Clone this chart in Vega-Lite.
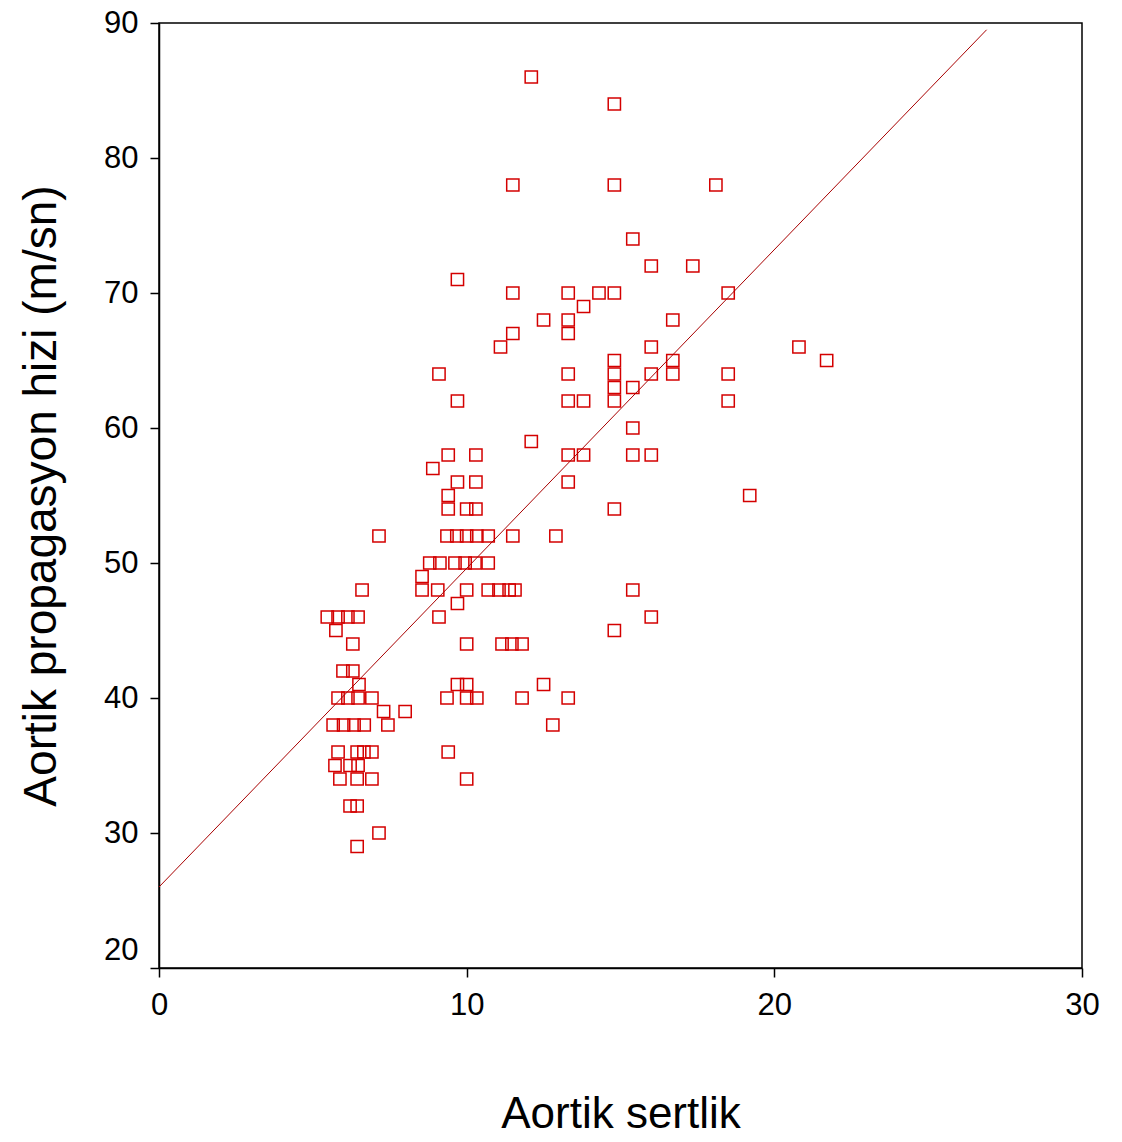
{
  "$schema": "https://vega.github.io/schema/vega-lite/v6.json",
  "width": 923,
  "height": 945,
  "autosize": {"type": "none"},
  "padding": {"left": 159, "top": 23, "right": 40, "bottom": 174},
  "background": "white",
  "config": {
    "view": {"stroke": "#000000", "strokeWidth": 1.5},
    "font": "Liberation Sans"
  },
  "datasets": {
    "points": [
      {"x": 12.1, "y": 86},
      {"x": 14.8, "y": 84},
      {"x": 11.5, "y": 78}, {"x": 14.8, "y": 78}, {"x": 18.1, "y": 78},
      {"x": 15.4, "y": 74},
      {"x": 16.0, "y": 72}, {"x": 17.35, "y": 72},
      {"x": 9.7, "y": 71},
      {"x": 11.5, "y": 70}, {"x": 13.3, "y": 70}, {"x": 14.3, "y": 70}, {"x": 14.8, "y": 70}, {"x": 18.5, "y": 70},
      {"x": 13.8, "y": 69},
      {"x": 12.5, "y": 68}, {"x": 13.3, "y": 68}, {"x": 16.7, "y": 68},
      {"x": 11.5, "y": 67}, {"x": 13.3, "y": 67},
      {"x": 11.1, "y": 66}, {"x": 16.0, "y": 66}, {"x": 20.8, "y": 66},
      {"x": 14.8, "y": 65}, {"x": 16.7, "y": 65}, {"x": 21.7, "y": 65},
      {"x": 9.1, "y": 64}, {"x": 13.3, "y": 64}, {"x": 14.8, "y": 64}, {"x": 16.0, "y": 64}, {"x": 16.7, "y": 64}, {"x": 18.5, "y": 64},
      {"x": 14.8, "y": 63}, {"x": 15.4, "y": 63},
      {"x": 9.7, "y": 62}, {"x": 13.3, "y": 62}, {"x": 13.8, "y": 62}, {"x": 14.8, "y": 62}, {"x": 18.5, "y": 62},
      {"x": 15.4, "y": 60},
      {"x": 12.1, "y": 59},
      {"x": 9.4, "y": 58}, {"x": 10.3, "y": 58}, {"x": 13.3, "y": 58}, {"x": 13.8, "y": 58}, {"x": 15.4, "y": 58}, {"x": 16.0, "y": 58},
      {"x": 8.9, "y": 57},
      {"x": 9.7, "y": 56}, {"x": 10.3, "y": 56}, {"x": 13.3, "y": 56},
      {"x": 9.4, "y": 55}, {"x": 19.2, "y": 55},
      {"x": 9.4, "y": 54}, {"x": 10.0, "y": 54}, {"x": 10.3, "y": 54}, {"x": 14.8, "y": 54},
      {"x": 7.15, "y": 52}, {"x": 9.36, "y": 52}, {"x": 9.68, "y": 52}, {"x": 10.0, "y": 52}, {"x": 10.33, "y": 52}, {"x": 10.7, "y": 52}, {"x": 11.5, "y": 52}, {"x": 12.9, "y": 52},
      {"x": 8.8, "y": 50}, {"x": 9.13, "y": 50}, {"x": 9.62, "y": 50}, {"x": 9.95, "y": 50}, {"x": 10.27, "y": 50}, {"x": 10.7, "y": 50},
      {"x": 8.55, "y": 49},
      {"x": 6.6, "y": 48}, {"x": 8.55, "y": 48}, {"x": 9.06, "y": 48}, {"x": 10.0, "y": 48}, {"x": 10.7, "y": 48}, {"x": 11.05, "y": 48}, {"x": 11.38, "y": 48}, {"x": 11.57, "y": 48}, {"x": 15.4, "y": 48},
      {"x": 9.7, "y": 47},
      {"x": 5.47, "y": 46}, {"x": 5.82, "y": 46}, {"x": 6.14, "y": 46}, {"x": 6.47, "y": 46}, {"x": 9.1, "y": 46}, {"x": 16.0, "y": 46},
      {"x": 5.75, "y": 45}, {"x": 14.8, "y": 45},
      {"x": 6.3, "y": 44}, {"x": 10.0, "y": 44}, {"x": 11.15, "y": 44}, {"x": 11.47, "y": 44}, {"x": 11.8, "y": 44},
      {"x": 5.98, "y": 42}, {"x": 6.3, "y": 42},
      {"x": 6.5, "y": 41}, {"x": 9.7, "y": 41}, {"x": 10.0, "y": 41}, {"x": 12.5, "y": 41},
      {"x": 5.82, "y": 40}, {"x": 6.14, "y": 40}, {"x": 6.47, "y": 40}, {"x": 6.92, "y": 40}, {"x": 9.36, "y": 40}, {"x": 10.0, "y": 40}, {"x": 10.33, "y": 40}, {"x": 11.8, "y": 40}, {"x": 13.3, "y": 40},
      {"x": 7.3, "y": 39}, {"x": 8.0, "y": 39},
      {"x": 5.66, "y": 38}, {"x": 6.0, "y": 38}, {"x": 6.34, "y": 38}, {"x": 6.67, "y": 38}, {"x": 7.44, "y": 38}, {"x": 12.8, "y": 38},
      {"x": 5.82, "y": 36}, {"x": 6.44, "y": 36}, {"x": 6.66, "y": 36}, {"x": 6.92, "y": 36}, {"x": 9.4, "y": 36},
      {"x": 5.72, "y": 35}, {"x": 6.21, "y": 35}, {"x": 6.47, "y": 35},
      {"x": 5.88, "y": 34}, {"x": 6.44, "y": 34}, {"x": 6.92, "y": 34}, {"x": 10.0, "y": 34},
      {"x": 6.21, "y": 32}, {"x": 6.44, "y": 32},
      {"x": 7.15, "y": 30},
      {"x": 6.44, "y": 29}
    ],
    "fit": [
      {"x": 0, "y": 26.0},
      {"x": 26.9, "y": 89.5}
    ]
  },
  "layer": [
    {
      "data": {"name": "points"},
      "mark": {"type": "point", "shape": "square", "filled": false, "color": "#d40000", "size": 150, "strokeWidth": 1.5, "opacity": 1},
      "encoding": {
        "x": {
          "field": "x", "type": "quantitative",
          "scale": {"domain": [0, 30], "nice": false, "zero": false},
          "axis": {
            "title": "Aortik sertlik",
            "values": [0, 10, 20, 30],
            "grid": false,
            "tickSize": 9, "tickColor": "#000000", "tickWidth": 1.5,
            "domainColor": "#000000", "domainWidth": 1.5,
            "labelFontSize": 31, "labelColor": "#000000", "labelPadding": 13, "labelFont": "Liberation Sans", "labelFlush": false,
            "titleFontSize": 44, "titleFontWeight": "normal", "titleColor": "#000000", "titlePadding": 72, "titleFont": "Liberation Sans"
          }
        },
        "y": {
          "field": "y", "type": "quantitative",
          "scale": {"domain": [20, 90], "nice": false, "zero": false},
          "axis": {
            "title": "Aortik propagasyon hizi (m/sn)",
            "values": [20, 30, 40, 50, 60, 70, 80, 90],
            "grid": false,
            "tickSize": 9, "tickColor": "#000000", "tickWidth": 1.5,
            "domainColor": "#000000", "domainWidth": 1.5,
            "labelFontSize": 31, "labelColor": "#000000", "labelPadding": 12, "labelFont": "Liberation Sans", "labelFlush": false,
            "labelOffset": {"condition": {"test": "datum.value == 20", "value": -18}, "value": 0},
            "titleFontSize": 46, "titleFontWeight": "normal", "titleColor": "#000000", "titlePadding": 38, "titleFont": "Liberation Sans"
          }
        }
      }
    },
    {
      "data": {"name": "fit"},
      "mark": {"type": "line", "color": "#a80000", "strokeWidth": 1},
      "encoding": {
        "x": {"field": "x", "type": "quantitative"},
        "y": {"field": "y", "type": "quantitative"}
      }
    }
  ]
}
